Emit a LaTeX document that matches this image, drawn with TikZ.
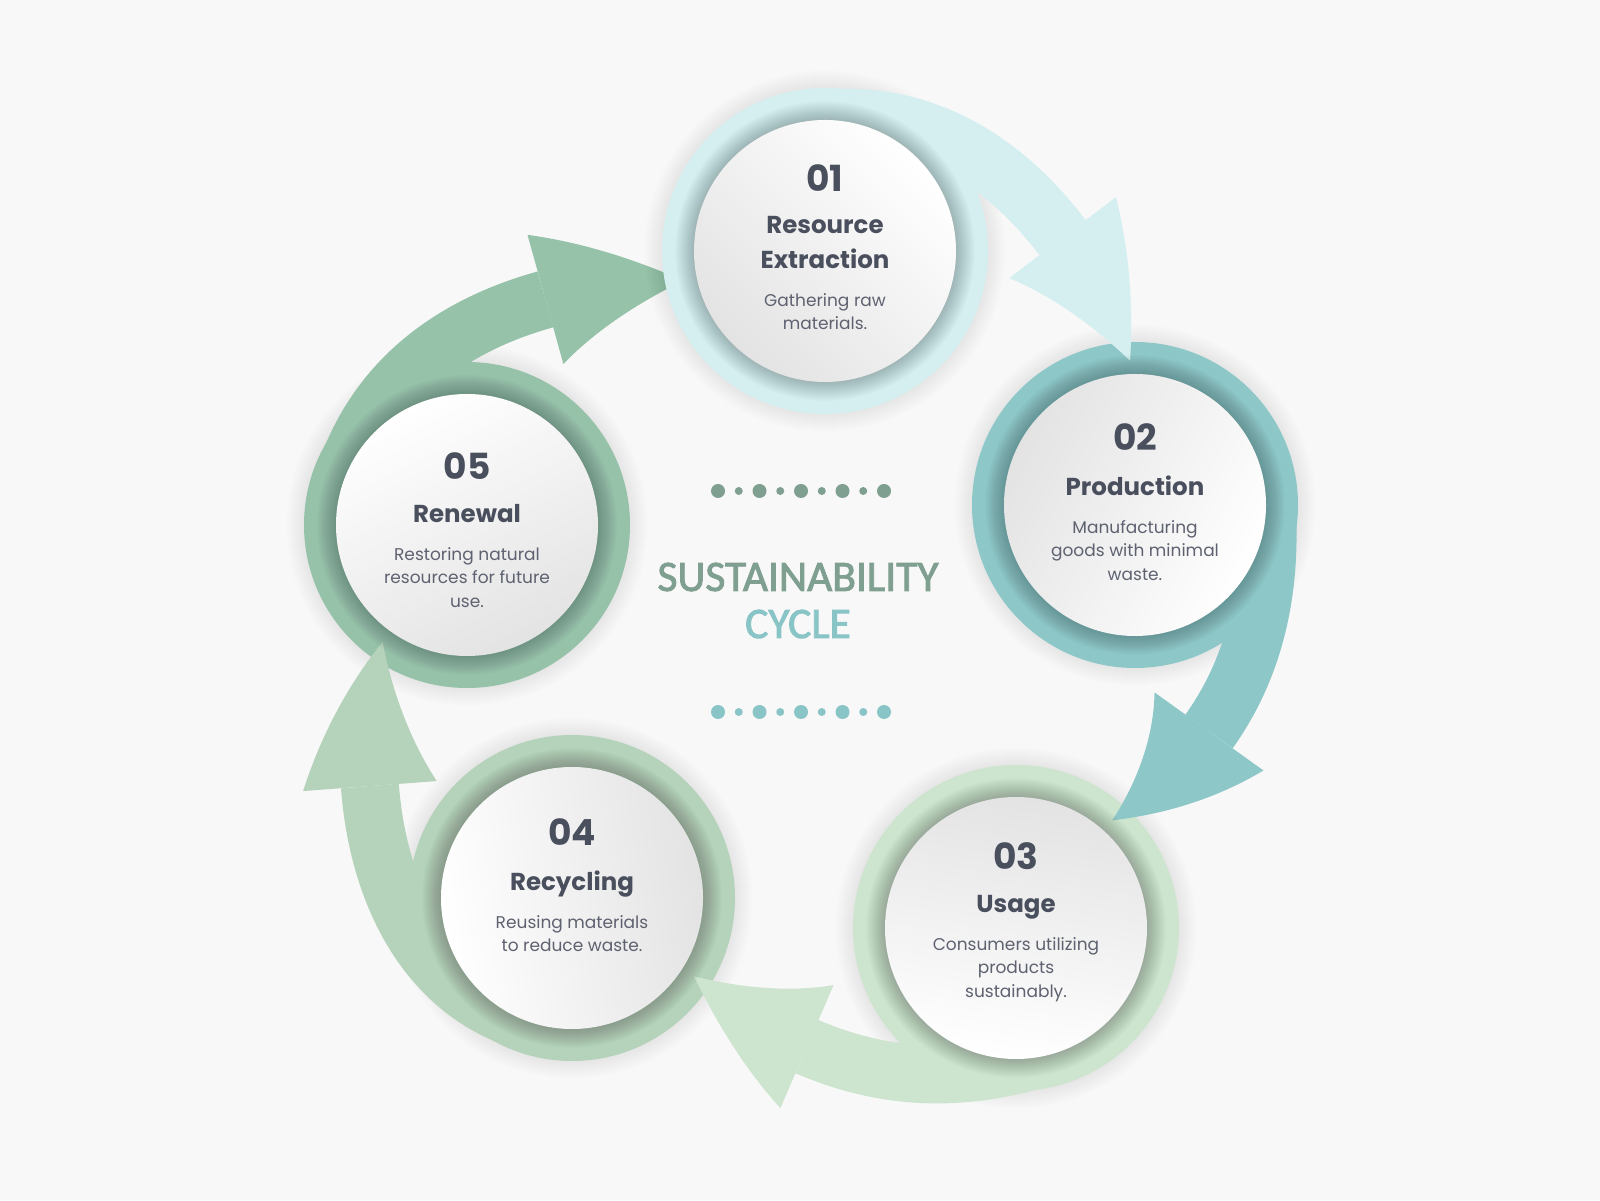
\documentclass[tikz,border=0pt]{standalone}
\usepackage{fontspec}
\usetikzlibrary{arrows.meta,bending,positioning}
\newfontfamily\popfont{Poppins}
\newfontfamily\carfont{Carlito}[RawFeature={embolden=2}]
\definecolor{bgcol}{HTML}{F8F8F8}
\definecolor{ringa}{HTML}{D5EFF0}
\definecolor{ringb}{HTML}{8DC7C8}
\definecolor{ringc}{HTML}{CDE4CE}
\definecolor{ringd}{HTML}{B5D2BA}
\definecolor{ringe}{HTML}{96C2A9}
\definecolor{diskgrey}{HTML}{E3E3E3}
\definecolor{inkdark}{HTML}{4A4F5E}
\definecolor{inkgrey}{HTML}{5E6270}
\definecolor{sagetext}{HTML}{7F9F91}
\definecolor{tealtext}{HTML}{89C4C7}

\begin{document}
\begin{tikzpicture}[x=1pt,y=1pt,
    stage/.style={circle,minimum size=262pt,inner sep=0pt},
    flow/.style={line width=58pt,shorten >=14pt,
                 -{Triangle[length=144pt,width=134pt,line width=0pt,bend]}},
    num/.style={font=\popfont\bfseries\fontsize{36}{40}\selectfont,text=inkdark,inner sep=0pt},
    ttl/.style={font=\popfont\bfseries\fontsize{24.5}{35}\selectfont,text=inkdark,inner sep=0pt,
                align=center,text depth=0pt,anchor=south},
    dsc/.style={font=\popfont\fontsize{17}{23.5}\selectfont,text=inkgrey,inner sep=0pt,align=center},
    big/.style={font=\carfont\fontsize{43.5}{48}\selectfont,anchor=base}]

\path[use as bounding box,fill=bgcol] (0,0) rectangle (1600,1200);

% the five stages
\node[stage] (s1) at (825,949) {};
\node[stage] (s2) at (1135,695) {};
\node[stage] (s3) at (1016,272) {};
\node[stage] (s4) at (572,302) {};
\node[stage] (s5) at (467,675) {};

% halo and ring, stages 2-5
\foreach \s/\c in {s2/ringb,s3/ringc,s4/ringd,s5/ringe}{
    \foreach \r in {164,...,181} \fill[black,opacity=0.005] (\s.center) circle (\r);
    \fill[\c] (\s.center) circle (163);
}

% renewal -> extraction goes under ring 1
\draw[flow,ringe] (s5.165) to[out=75,in=180] (s1.193);

\foreach \r in {164,...,181} \fill[black,opacity=0.005] (s1.center) circle (\r);
\fill[ringa] (s1.center) circle (163);

% the other arrows
\draw[flow,ringa] (s1.100) to[out=10,in=110] (s2.90);
\draw[flow,ringb] (s2.5) to[out=-85,in=30] (s3.50);
\draw[flow,ringc] (s3.290) to[out=-160,in=-40] (s4.328);
\draw[flow,ringd] (s4.260) to[out=170,in=-106] (s5.232);

% inner shadow and white disk
\foreach \s/\a in {s1/-45,s2/-117,s3/171,s4/99,s5/27}{
    \foreach \r in {132,...,150} \fill[black,opacity=0.013] (\s.center) circle (\r);
    \shade[top color=white,bottom color=diskgrey,shading angle=\a] (\s.center) circle (131);
}

% texts
\node[ttl] (t1) at ([yshift=-18pt]s1.center) {Resource\\Extraction};
\node[num,above=25pt of t1] (n1) {01};
\node[dsc,below=24pt of t1] (d1) {Gathering raw\\materials.};

\node[ttl] (t2) at ([yshift=9pt]s2.center) {Production};
\node[num,above=25pt of t2] (n2) {02};
\node[dsc,below=24pt of t2] (d2) {Manufacturing\\goods with minimal\\waste.};

\node[ttl] (t3) at ([yshift=15pt]s3.center) {Usage};
\node[num,above=25pt of t3] (n3) {03};
\node[dsc,below=24pt of t3] (d3) {Consumers utilizing\\products\\sustainably.};

\node[ttl] (t4) at ([yshift=7pt]s4.center) {Recycling};
\node[num,above=25pt of t4] (n4) {04};
\node[dsc,below=24pt of t4] (d4) {Reusing materials\\to reduce waste.};

\node[ttl] (t5) at ([yshift=2pt]s5.center) {Renewal};
\node[num,above=25pt of t5] (n5) {05};
\node[dsc,below=24pt of t5] (d5) {Restoring natural\\resources for future\\use.};

% centre title
\node[big,text=sagetext] (head) at (798,609) {SUSTAINABILITY};
\node[big,text=tealtext] (cyc) at ([yshift=-47pt]head.base) {CYCLE};

\foreach \i in {0,2,4,6,8} \fill[sagetext] ({718+20.75*\i},709) circle (7);
\foreach \i in {1,3,5,7} \fill[sagetext] ({718+20.75*\i},709) circle (4);
\foreach \i in {0,2,4,6,8} \fill[tealtext] ({718+20.75*\i},488) circle (7);
\foreach \i in {1,3,5,7} \fill[tealtext] ({718+20.75*\i},488) circle (4);

\end{tikzpicture}
\end{document}
